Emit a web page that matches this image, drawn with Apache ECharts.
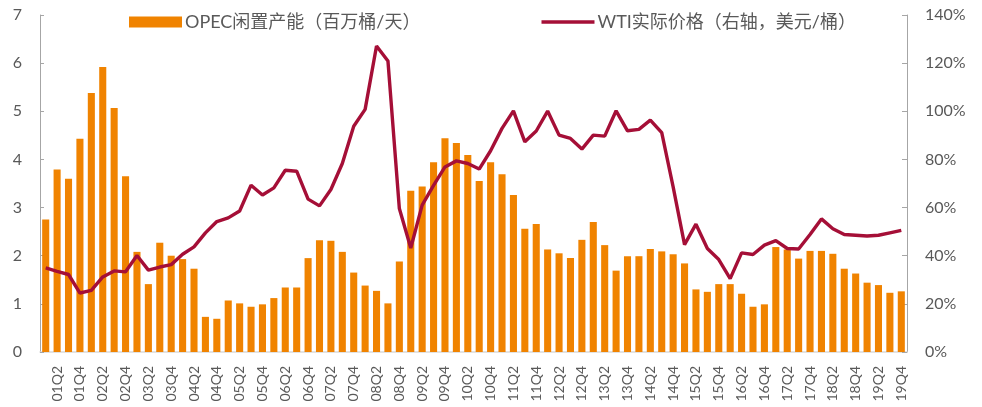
<!DOCTYPE html>
<html>
<head>
    <meta charset="utf-8">
    <title>OPEC闲置产能与WTI实际价格</title>
    <script src="https://cdn.jsdelivr.net/npm/echarts@6/dist/echarts.min.js"></script>
    <style>
        html, body { margin: 0; padding: 0; background: #fff; }
    </style>
</head>
<body>
    <div id="myEcharts" style="width: 982px;height:407px;"></div>
    <script type="text/javascript">
        // 季度：01Q1 ~ 19Q4
        var quarters = [];
        for (var y = 1; y <= 19; y++) {
            for (var q = 1; q <= 4; q++) {
                quarters.push((y < 10 ? '0' + y : '' + y) + 'Q' + q);
            }
        }

        // OPEC闲置产能（百万桶/天）
        var spareCapacity = [
            2.75, 3.79, 3.60, 4.43, 5.38, 5.92, 5.07, 3.65,
            2.08, 1.41, 2.27, 2.00, 1.93, 1.73, 0.73, 0.69,
            1.07, 1.01, 0.94, 0.99, 1.12, 1.34, 1.34, 1.95,
            2.32, 2.31, 2.08, 1.65, 1.38, 1.27, 1.01, 1.88,
            3.35, 3.44, 3.94, 4.44, 4.34, 4.09, 3.55, 3.94,
            3.69, 3.26, 2.56, 2.66, 2.13, 2.05, 1.95, 2.33,
            2.70, 2.22, 1.69, 1.99, 1.99, 2.14, 2.09, 2.03,
            1.84, 1.30, 1.25, 1.41, 1.41, 1.21, 0.94, 0.99,
            2.18, 2.13, 1.94, 2.10, 2.10, 2.04, 1.73, 1.63,
            1.44, 1.39, 1.23, 1.26
        ];

        // WTI实际价格（右轴）
        var wtiPrice = [
            34.9, 33.5, 32.2, 24.5, 25.6, 31.2, 33.7, 33.3,
            40.1, 34.0, 35.3, 36.3, 40.6, 43.7, 49.5, 54.2,
            55.7, 58.6, 69.3, 65.2, 68.2, 75.5, 75.1, 63.5,
            60.7, 67.5, 78.3, 93.8, 100.8, 127.1, 120.9, 59.6,
            43.2, 61.0, 69.2, 76.9, 79.4, 78.3, 76.0, 83.6,
            92.9, 100.2, 87.3, 91.8, 100.1, 90.1, 88.7, 84.3,
            90.1, 89.7, 100.2, 91.9, 92.5, 96.3, 91.1, 68.6,
            44.6, 53.1, 43.0, 38.4, 30.5, 41.2, 40.5, 44.4,
            46.3, 43.0, 42.8, 48.8, 55.3, 51.2, 48.8, 48.5,
            48.2, 48.5, 49.5, 50.5
        ];

        var fontFam = 'Lato, "Noto Sans CJK SC", sans-serif';
        var lineColor = '#A50F37';
        var myChart = echarts.init(document.getElementById('myEcharts'));
        var option = {
            animation: false,
            textStyle: { fontFamily: fontFam },
            legend: {
                left: 129,
                top: 13,
                padding: 0,
                itemWidth: 53,
                itemHeight: 11,
                itemGap: 121,
                textStyle: { fontSize: 18, color: '#595959', padding: [0, 0, 0, -2] },
                data: [
                    { name: 'OPEC闲置产能（百万桶/天）', icon: 'rect' },
                    { name: 'WTI实际价格（右轴，美元/桶）', icon: 'path://M0,0 L53,0 L53,3.6 L0,3.6 Z',
                      itemStyle: { color: lineColor } }
                ]
            },
            grid: {
                left: 40,
                right: 75,
                top: 15,
                bottom: 55
            },
            xAxis: {
                type: 'category',
                data: quarters,
                axisLine: { lineStyle: { color: '#D9D9D9', width: 1.5 } },
                axisTick: { show: false },
                axisLabel: {
                    rotate: 90,
                    interval: function (index) { return index % 2 === 1; },
                    color: '#595959',
                    fontSize: 14,
                    margin: 14
                }
            },
            yAxis: [{
                type: 'value',
                min: 0,
                max: 7,
                interval: 1,
                splitLine: { show: false },
                axisLine: { show: true, lineStyle: { color: '#A6A6A6' } },
                axisTick: { show: true, inside: true, length: 4, lineStyle: { color: '#A6A6A6' } },
                axisLabel: { color: '#595959', fontSize: 16, margin: 18 }
            }, {
                type: 'value',
                min: 0,
                max: 140,
                interval: 20,
                position: 'right',
                splitLine: { show: false },
                axisLine: { show: true, lineStyle: { color: '#A6A6A6' } },
                axisTick: { show: true, inside: true, length: 5, lineStyle: { color: '#A6A6A6' } },
                axisLabel: { color: '#595959', fontSize: 16, margin: 18, formatter: '{value}%' }
            }],
            series: [{
                name: 'OPEC闲置产能（百万桶/天）',
                type: 'bar',
                data: spareCapacity,
                barCategoryGap: '38%',
                itemStyle: { color: '#F08300' }
            }, {
                name: 'WTI实际价格（右轴，美元/桶）',
                type: 'line',
                yAxisIndex: 1,
                data: wtiPrice,
                symbol: 'none',
                lineStyle: { color: lineColor, width: 3.4 },
                itemStyle: { color: lineColor }
            }]
        };
        myChart.setOption(option);
    </script>
</body>
</html>
